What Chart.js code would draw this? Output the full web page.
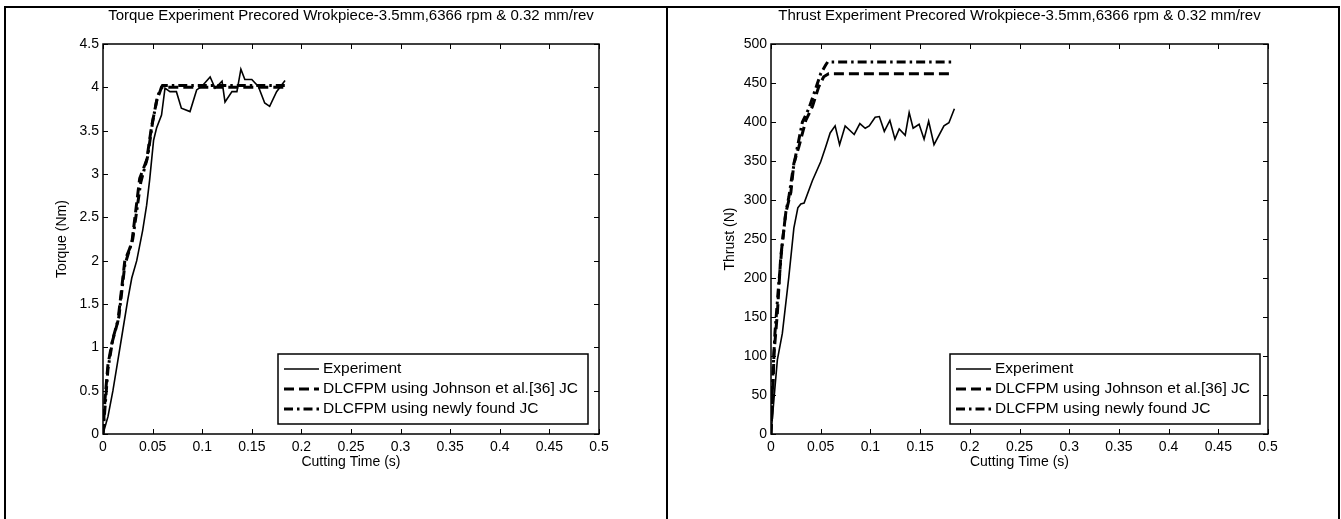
<!DOCTYPE html>
<html>
<head>
<meta charset="utf-8">
<script src="https://cdn.jsdelivr.net/npm/chart.js@4.4.1/dist/chart.umd.min.js"></script>
<style>
  html, body { margin: 0; padding: 0; background: #fff; }
  #page { position: relative; width: 1341px; height: 519px; overflow: hidden; }
  .panel { position: absolute; top: 0; height: 519px; }
  .frame { position: absolute; pointer-events: none; border-top: 2px solid #000; }
  .vline { position: absolute; top: 6px; bottom: 0; width: 2px; background: #000; }
</style>
</head>
<body>
<div id="page">
  <div class="panel" style="left:0;width:668px"><canvas id="torque"></canvas></div>
  <div class="panel" style="left:668px;width:673px"><canvas id="thrust"></canvas></div>
  <div class="frame" style="left:4px;right:2px;top:6px;height:0"></div>
  <div class="vline" style="left:4px"></div>
  <div class="vline" style="left:666px"></div>
  <div class="vline" style="left:1338px"></div>
</div>
<script>
// axis ticks
var xTicks = [0, 0.05, 0.1, 0.15, 0.2, 0.25, 0.3, 0.35, 0.4, 0.45, 0.5];
var xTickLabels = ['0', '0.05', '0.1', '0.15', '0.2', '0.25', '0.3', '0.35', '0.4', '0.45', '0.5'];
var torqueTicks = [0, 0.5, 1, 1.5, 2, 2.5, 3, 3.5, 4, 4.5];
var torqueTickLabels = ['0', '0.5', '1', '1.5', '2', '2.5', '3', '3.5', '4', '4.5'];
var thrustTicks = [0, 50, 100, 150, 200, 250, 300, 350, 400, 450, 500];
var thrustTickLabels = ['0', '50', '100', '150', '200', '250', '300', '350', '400', '450', '500'];

var seriesLabels = ['Experiment', 'DLCFPM using Johnson et al.[36] JC', 'DLCFPM using newly found JC'];

// torque (Nm) vs cutting time (s)
var torqueExpT = [0, 0.005, 0.01, 0.015, 0.02, 0.025, 0.029, 0.034, 0.04, 0.044, 0.047, 0.051, 0.054, 0.059, 0.0625,
	0.0675, 0.074, 0.079, 0.0877, 0.0944, 0.0995, 0.108, 0.113, 0.12, 0.123, 0.13, 0.135, 0.139, 0.143, 0.15,
	0.1566, 0.163, 0.168, 0.175, 0.1835];
var torqueExp = [0, 0.2, 0.5, 0.85, 1.2, 1.55, 1.8, 2.0, 2.35, 2.64, 2.93, 3.39, 3.53, 3.68, 3.99,
	3.95, 3.95, 3.76, 3.72, 3.97, 4.01, 4.12, 3.99, 4.07, 3.83, 3.95, 3.95, 4.21, 4.09, 4.09,
	4.01, 3.82, 3.78, 3.95, 4.08];
var torqueJohnsonT = [0, 0.002, 0.005, 0.009, 0.015, 0.022, 0.029, 0.037, 0.044, 0.049, 0.054, 0.059, 0.1835];
var torqueJohnson = [0, 0.4, 0.8, 1.05, 1.3, 2.0, 2.2, 2.95, 3.16, 3.55, 3.84, 4.0, 4.0];
var torqueNewT = [0, 0.002, 0.005, 0.01, 0.016, 0.022, 0.03, 0.038, 0.045, 0.05, 0.055, 0.06, 0.1835];
var torqueNew = [0, 0.3, 0.75, 1.1, 1.35, 1.95, 2.25, 2.9, 3.2, 3.6, 3.9, 4.02, 4.02];

// thrust (N) vs cutting time (s)
var thrustExpT = [0, 0.003, 0.0064, 0.0114, 0.018, 0.023, 0.027, 0.03, 0.0333, 0.0417, 0.05, 0.055, 0.0595, 0.0645,
	0.069, 0.0746, 0.0837, 0.0894, 0.0948, 0.0988, 0.1048, 0.109, 0.114, 0.1196, 0.1247, 0.129, 0.135, 0.139,
	0.143, 0.149, 0.154, 0.1586, 0.164, 0.174, 0.179, 0.1845];
var thrustExp = [0, 45, 95, 129, 202, 264, 290, 295, 296, 325, 349, 368, 386, 395,
	371, 395, 384, 398, 392, 395, 406, 407, 388, 402, 378, 391, 383, 412,
	392, 397, 378, 401, 371, 395, 399, 417];
var thrustJohnsonT = [0, 0.002, 0.003, 0.0064, 0.0098, 0.0148, 0.02, 0.023, 0.028, 0.035, 0.0417, 0.048, 0.053, 0.058, 0.183];
var thrustJohnson = [0, 60, 103, 155, 227, 283, 310, 347, 368, 402, 420, 445, 458, 462, 462];
var thrustNewT = [0, 0.002, 0.004, 0.007, 0.011, 0.015, 0.018, 0.0215, 0.025, 0.0316, 0.038, 0.045, 0.05, 0.055, 0.057, 0.183];
var thrustNew = [0, 80, 130, 180, 240, 285, 304, 334, 358, 400, 417, 443, 462, 473, 477, 477];

var FONT = 'Liberation Sans, Arial, Helvetica, sans-serif';
Chart.defaults.font.family = FONT;
Chart.defaults.font.size = 14;
Chart.defaults.color = '#000';

function points(ts, vs) {
	return ts.map(function(t, i) { return { x: t, y: vs[i] }; });
}

// box round the plot with inward ticks, and the title centred over the plot
var boxTicks = {
	id: 'boxTicks',
	afterDatasetsDraw: function(chart, args, opts) {
		var ctx = chart.ctx, a = chart.chartArea;
		var xs = chart.scales.x, ys = chart.scales.y;
		var len = 5;
		ctx.save();
		ctx.strokeStyle = '#000';
		ctx.lineWidth = 1;
		ctx.beginPath();
		xs.ticks.forEach(function(t) {
			var px = Math.round(xs.getPixelForValue(t.value)) + 0.5;
			ctx.moveTo(px, a.bottom); ctx.lineTo(px, a.bottom - len);
			ctx.moveTo(px, a.top); ctx.lineTo(px, a.top + len);
		});
		ys.ticks.forEach(function(t) {
			var py = Math.round(ys.getPixelForValue(t.value)) + 0.5;
			ctx.moveTo(a.left, py); ctx.lineTo(a.left + len, py);
			ctx.moveTo(a.right, py); ctx.lineTo(a.right - len, py);
		});
		ctx.stroke();
		ctx.lineWidth = 1.5;
		ctx.strokeRect(Math.round(a.left), Math.round(a.top), Math.round(a.right - a.left), Math.round(a.bottom - a.top));
		ctx.fillStyle = '#000';
		ctx.font = '15px ' + FONT;
		ctx.textAlign = 'center';
		ctx.textBaseline = 'middle';
		ctx.fillText(opts.text, (a.left + a.right) / 2, a.top - 28);
		ctx.restore();
	}
};

// legend box in the lower right corner of the plot
var boxLegend = {
	id: 'boxLegend',
	afterDraw: function(chart, args, opts) {
		var ctx = chart.ctx, a = chart.chartArea;
		var sets = chart.data.datasets;
		ctx.save();
		ctx.font = '15.5px ' + FONT;
		var textW = 0;
		sets.forEach(function(ds) { textW = Math.max(textW, ctx.measureText(ds.label).width); });
		var rowH = 20, sample = 35;
		var w = 6 + sample + 4 + textW + 10, h = rowH * sets.length + 10;
		var right = Math.round(a.right) - opts.inset, bottom = Math.round(a.bottom) - 10;
		var left = Math.round(right - w), top = bottom - h;
		ctx.fillStyle = '#fff';
		ctx.fillRect(left, top, right - left, h);
		ctx.strokeStyle = '#000';
		ctx.lineWidth = 1.5;
		ctx.strokeRect(left, top, right - left, h);
		ctx.textBaseline = 'middle';
		ctx.fillStyle = '#000';
		sets.forEach(function(ds, i) {
			var cy = top + 15 + i * rowH;
			ctx.beginPath();
			ctx.lineWidth = ds.borderWidth;
			ctx.setLineDash(ds.borderDash || []);
			ctx.moveTo(left + 6, cy);
			ctx.lineTo(left + 6 + sample, cy);
			ctx.stroke();
			ctx.setLineDash([]);
			ctx.fillText(ds.label, left + 6 + sample + 4, cy);
		});
		ctx.restore();
	}
};

function makeChart(id, title, yTitle, yMax, yTicks, yTickLabels, series, padRight, legendInset) {
	var styles = [
		{ borderWidth: 1.6, borderDash: [] },
		{ borderWidth: 3, borderDash: [10, 5] },
		{ borderWidth: 3, borderDash: [9, 4, 2.5, 4] }
	];
	return new Chart(document.getElementById(id), {
		type: 'line',
		data: {
			datasets: series.map(function(s, i) {
				return {
					label: seriesLabels[i],
					data: s,
					borderColor: '#000',
					borderWidth: styles[i].borderWidth,
					borderDash: styles[i].borderDash,
					pointRadius: 0,
					tension: 0,
					fill: false
				};
			})
		},
		options: {
			responsive: true,
			maintainAspectRatio: false,
			animation: false,
			layout: { padding: { left: 54, right: padRight, top: 44, bottom: 44 } },
			plugins: {
				legend: { display: false },
				tooltip: { enabled: false },
				title: { display: false },
				boxTicks: { text: title },
				boxLegend: { inset: legendInset }
			},
			scales: {
				x: {
					type: 'linear',
					min: 0, max: 0.5,
					grid: { display: false, drawTicks: false },
					border: { display: false },
					afterBuildTicks: function(scale) {
						scale.ticks = xTicks.map(function(v) { return { value: v }; });
					},
					afterFit: function(scale) { scale.height = 41; },
					ticks: {
						padding: 5,
						maxRotation: 0,
						autoSkip: false,
						callback: function(v, i) { return xTickLabels[i]; }
					},
					title: { display: true, text: 'Cutting Time (s)', padding: { top: 0 } }
				},
				y: {
					type: 'linear',
					min: 0, max: yMax,
					grid: { display: false, drawTicks: false },
					border: { display: false },
					afterBuildTicks: function(scale) {
						scale.ticks = yTicks.map(function(v) { return { value: v }; });
					},
					afterFit: function(scale) { scale.width = 49; },
					ticks: {
						padding: 4,
						autoSkip: false,
						callback: function(v, i) { return yTickLabels[i]; }
					},
					title: { display: true, text: yTitle, padding: 0 }
				}
			}
		},
		plugins: [boxTicks, boxLegend]
	});
}

makeChart('torque', 'Torque Experiment Precored Wrokpiece-3.5mm,6366 rpm & 0.32 mm/rev', 'Torque (Nm)', 4.5,
	torqueTicks, torqueTickLabels,
	[points(torqueExpT, torqueExp), points(torqueJohnsonT, torqueJohnson), points(torqueNewT, torqueNew)], 69, 11);

makeChart('thrust', 'Thrust Experiment Precored Wrokpiece-3.5mm,6366 rpm & 0.32 mm/rev', 'Thrust (N)', 500,
	thrustTicks, thrustTickLabels,
	[points(thrustExpT, thrustExp), points(thrustJohnsonT, thrustJohnson), points(thrustNewT, thrustNew)], 73, 8);
</script>
</body>
</html>
